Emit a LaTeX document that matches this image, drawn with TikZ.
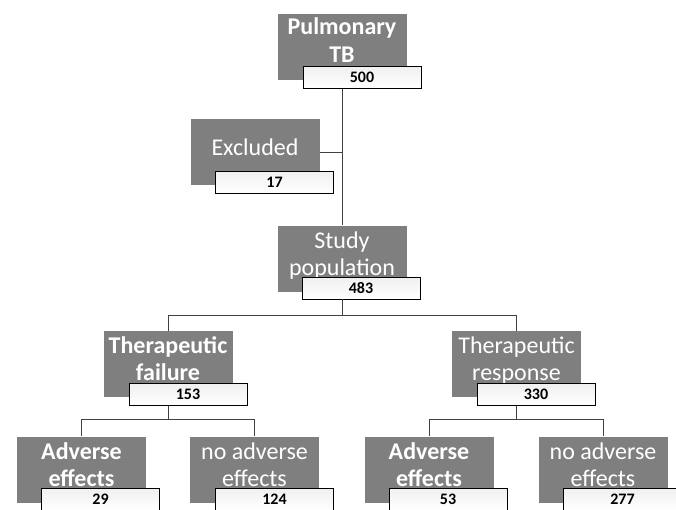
\documentclass[tikz,border=0pt]{standalone}
\usepackage{fontspec}
\setmainfont{Carlito}
\definecolor{boxgrey}{HTML}{7F7F7F}
\definecolor{linegrey}{HTML}{404040}
\newcommand{\gtop}{\rule{0pt}{19pt}}
\newcommand{\gbot}[1]{\rule[-#1]{0pt}{#1}}
\begin{document}
\begin{tikzpicture}[x=1pt,y=-1pt,
  gbox/.style={rectangle, fill=boxgrey, text=white, minimum width=129pt, minimum height=66pt, inner sep=0pt, align=center, font=\fontsize{24}{27}\selectfont},
  gboxb/.style={gbox, font=\fontsize{24}{27}\selectfont\bfseries},
  nbox/.style={rectangle, draw=black, line width=0.8pt, top color=gray!12, bottom color=white, minimum width=118pt, minimum height=22pt, inner sep=0pt, font=\fontsize{16}{18}\selectfont\bfseries},
  conn/.style={draw=linegrey, line width=0.9pt}]
\useasboundingbox (0,0) rectangle (676,509);
\clip (0,0) rectangle (676,509);
% grey boxes
\node[gboxb, font=\fontsize{24}{28}\selectfont\bfseries] (tb) at (342,47) {\gtop Pulmonary\\TB\gbot{16pt}};
\node[gbox] (excl) at (255,152) {\gtop Excluded\gbot{12.5pt}};
\node[gbox] (study) at (342,258.5) {\gtop Study\\population\gbot{13pt}};
\node[gboxb] (fail) at (168,364) {\gtop Therapeutic\\failure\gbot{14pt}};
\node[gbox] (resp) at (516.5,364) {\gtop Therapeutic\\response\gbot{14pt}};
\node[gboxb] (ae1) at (81.5,469.5) {\gtop Adverse\\effects\gbot{13pt}};
\node[gbox] (nae1) at (254.5,469.5) {\gtop no adverse\\effects\gbot{13pt}};
\node[gboxb] (ae2) at (429,469.5) {\gtop Adverse\\effects\gbot{13pt}};
\node[gbox] (nae2) at (603,469.5) {\gtop no adverse\\effects\gbot{13pt}};
% number boxes
\node[nbox] (n500) at (362,77.5) {500};
\node[nbox] (n17) at (274.5,182) {17};
\node[nbox] (n483) at (361,288) {483};
\node[nbox] (n153) at (188,394.5) {153};
\node[nbox] (n330) at (536,394.5) {330};
\node[nbox] (n29) at (100.5,499) {29};
\node[nbox] (n124) at (274.5,499) {124};
\node[nbox] (n53) at (448,499) {53};
\node[nbox] (n277) at (622.5,499) {277};
% connectors
\draw[conn] (tb.center |- n500.south) -- (study.north);
\draw[conn] (tb.center |- n500.south) |- (excl.east);
\draw[conn] (study.center |- n483.south) -- ++(0,16) -| (fail.north);
\draw[conn] (study.center |- n483.south) -- ++(0,16) -| (resp.north);
\draw[conn] (fail.center |- n153.south) -- ++(0,14) -| (ae1.north);
\draw[conn] (fail.center |- n153.south) -- ++(0,14) -| (nae1.north);
\draw[conn] (resp.center |- n330.south) -- ++(0,14) -| (ae2.north);
\draw[conn] (resp.center |- n330.south) -- ++(0,14) -| (nae2.north);
\end{tikzpicture}
\end{document}
